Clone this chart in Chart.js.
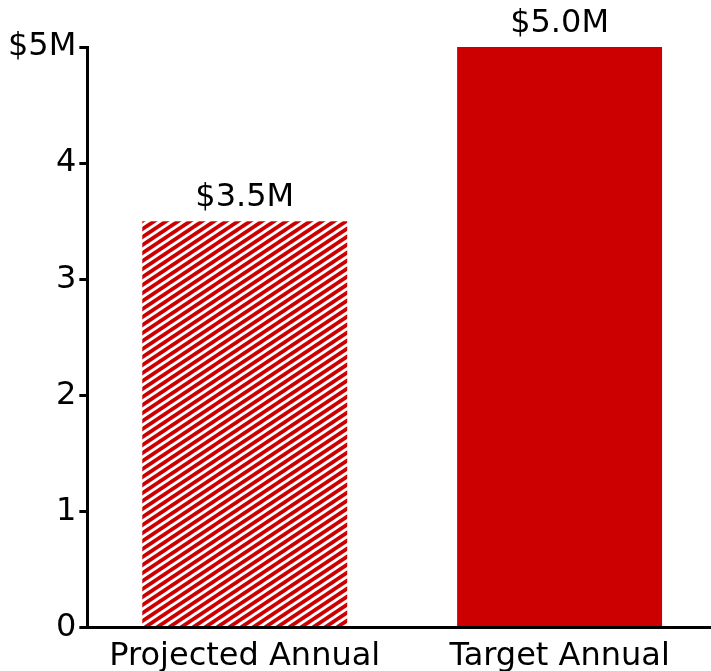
<!DOCTYPE html>
<html>
<head>
<meta charset="utf-8">
<script src="https://cdn.jsdelivr.net/npm/chart.js@4"></script>
<style>
    html, body { margin: 0; padding: 0; background: #fff; overflow: hidden; }
    #chart { display: block; }
</style>
</head>
<body>
<canvas id="chart" width="717" height="686"></canvas>
<script>
// Revenue figures, in millions
const categories = ['Projected Annual', 'Target Annual'];
const revenue = [3.5, 5.0];
const yTickLabels = ['0', '1', '2', '3', '4', '$5M'];

const RED = '#cc0000';
const FONT = { family: '"DejaVu Sans", Verdana, sans-serif', size: 32 };

// Diagonal white stripes on red for the projected bar
function makeHatch() {
    const w = 12, h = 8;
    const tile = document.createElement('canvas');
    tile.width = w;
    tile.height = h;
    const ctx = tile.getContext('2d');
    ctx.fillStyle = RED;
    ctx.fillRect(0, 0, w, h);
    ctx.strokeStyle = '#fff';
    ctx.lineWidth = 2.8;
    for (let k = 0; k <= 2; k++) {
        ctx.beginPath();
        ctx.moveTo(-w, h * (k + 1));
        ctx.lineTo(2 * w, h * (k - 2));
        ctx.stroke();
    }
    return ctx.createPattern(tile, 'repeat');
}

// Value labels above each bar
const valueLabels = {
    id: 'valueLabels',
    afterDatasetsDraw(chart) {
        const ctx = chart.ctx;
        const meta = chart.getDatasetMeta(0);
        ctx.save();
        ctx.font = `${FONT.size}px ${FONT.family}`;
        ctx.fillStyle = '#000';
        ctx.textAlign = 'center';
        ctx.textBaseline = 'alphabetic';
        meta.data.forEach((bar, i) => {
            ctx.fillText('$' + revenue[i].toFixed(1) + 'M', bar.x, bar.y - 15);
        });
        ctx.restore();
    }
};

const canvas = document.getElementById('chart');

new Chart(canvas, {
    type: 'bar',
    data: {
        labels: categories,
        datasets: [{
            data: revenue,
            backgroundColor: [makeHatch(), RED],
            borderWidth: 0,
            categoryPercentage: 1,
            barPercentage: 0.651
        }]
    },
    options: {
        responsive: false,
        animation: false,
        layout: {
            padding: { top: 47, left: 5, right: 0, bottom: 0 }
        },
        plugins: {
            legend: { display: false },
            tooltip: { enabled: false }
        },
        scales: {
            x: {
                grid: { display: false, drawTicks: false },
                border: { display: true, color: '#000', width: 3 },
                ticks: {
                    color: '#000',
                    font: FONT,
                    padding: 10,
                    maxRotation: 0
                }
            },
            y: {
                min: 0,
                max: 5,
                grid: {
                    display: true,
                    drawOnChartArea: false,
                    drawTicks: true,
                    tickLength: 8,
                    color: '#000',
                    lineWidth: 3
                },
                border: { display: true, color: '#000', width: 3 },
                ticks: {
                    stepSize: 1,
                    color: '#000',
                    font: FONT,
                    padding: 3,
                    callback: (value, index) => yTickLabels[index]
                }
            }
        }
    },
    plugins: [valueLabels]
});
</script>
</body>
</html>
